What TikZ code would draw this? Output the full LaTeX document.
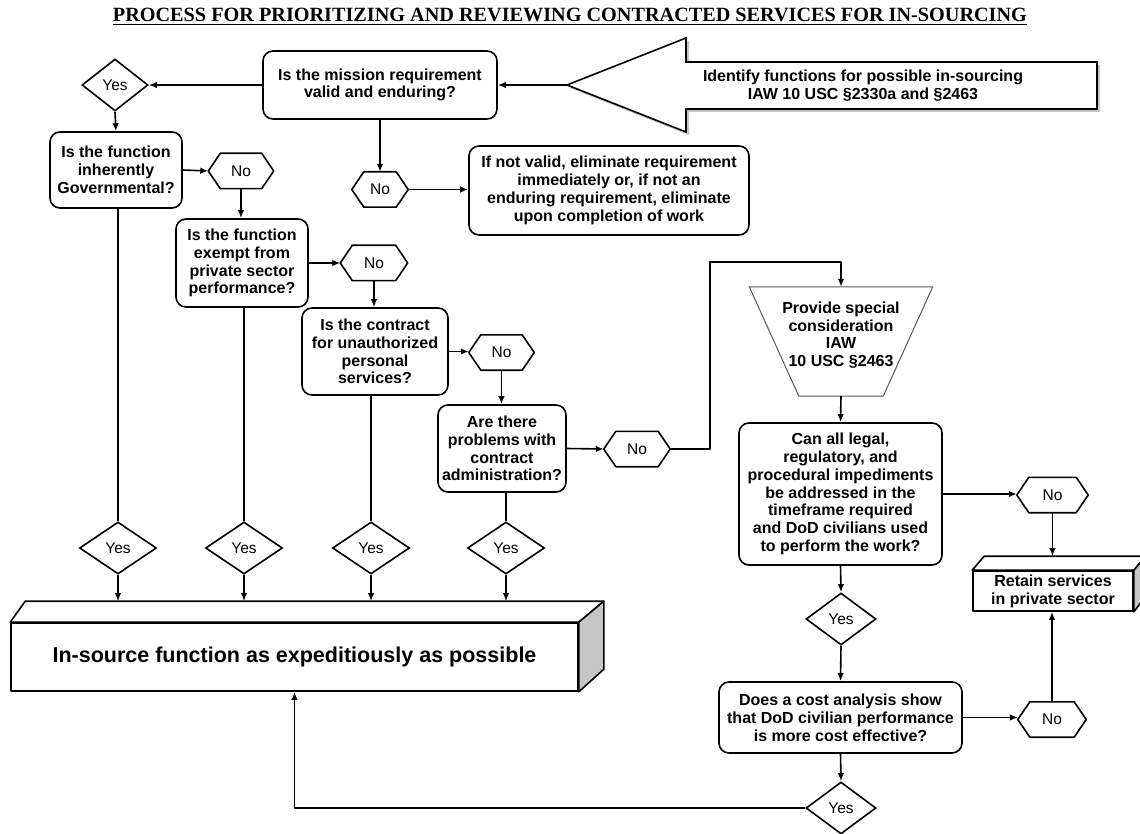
\documentclass[tikz,border=0pt]{standalone}
\usepackage{fontspec}
\setmainfont{Liberation Sans}
\newfontfamily\titlefont{Liberation Serif}
\usetikzlibrary{shapes.geometric,arrows.meta,calc}
\newcommand\qf{\fontsize{16}{17.8}\selectfont\bfseries}
\newcommand\lf{\fontsize{15.5}{17}\selectfont}
\newcommand\hexnode[4]{%
  \node[hexn=#3] (#1) at (#2) {#4};
  \draw[ln] (#1.west) -- ([xshift=12pt]#1.north west) -- ([xshift=-12pt]#1.north east)
    -- (#1.east) -- ([xshift=-12pt]#1.south east) -- ([xshift=12pt]#1.south west) -- cycle;}
\begin{document}
\begin{tikzpicture}[x=1pt,y=-1pt,
  ln/.style={line width=1.6pt, line join=round},
  arr/.style={ln, -{Latex[length=8pt,width=6.5pt]}},
  qbox/.style={draw, ln, rounded corners=10pt, align=center, font=\qf, inner sep=1pt},
  yesd/.style={draw, ln, line join=miter, diamond, inner sep=0pt, minimum width=#1, minimum height=52pt, font=\lf},
  yesd/.default=77pt,
  hexn/.style={minimum width=#1, minimum height=35pt, inner sep=0pt, font=\lf},
  boxthree/.style={draw, ln, align=center, font=\qf, inner sep=0pt},
]
\fill[white] (0,0) rectangle (1140,834);
\useasboundingbox (0,0) rectangle (1140,834);

% title
\node (title) at (570,17) {\resizebox{914pt}{!}{\titlefont\bfseries\underline{PROCESS FOR PRIORITIZING AND REVIEWING CONTRACTED SERVICES FOR IN-SOURCING}}};

% big arrow
\fill[gray!45] (570,88) -- (689,41) -- (689,65) -- (1100,65) -- (1100,112) -- (689,112) -- (689,135) -- cycle;
\draw[ln, fill=white, line join=miter] (567,85) -- (686,38) -- (686,62) -- (1097,62) -- (1097,109) -- (686,109) -- (686,132) -- cycle;
\coordinate (tip) at (567,85);
\node[font=\qf, align=center] (idf) at (863,86) {Identify functions for possible in-sourcing\\IAW 10 USC §2330a and §2463};

% boxes
\node[qbox, minimum width=234pt, minimum height=68pt] (mission) at (380,85) {Is the mission requirement\\valid and enduring?};
\node[yesd=66pt] (yes0) at (115,85) {Yes};
\node[qbox, minimum width=132pt, minimum height=76pt] (inh) at (116,170) {Is the function\\inherently\\Governmental?};
\hexnode{no1}{241,171}{65pt}{No}
\hexnode{no0}{380,189.5}{56pt}{No}
\node[qbox, minimum width=280pt, minimum height=89pt] (elim) at (609,190.5) {If not valid, eliminate requirement\\immediately or, if not an\\enduring requirement, eliminate\\upon completion of work};
\node[qbox, minimum width=132pt, minimum height=88pt] (exm) at (242,263) {Is the function\\exempt from\\private sector\\performance?};
\hexnode{no2}{374,263}{67pt}{No}
\node[qbox, minimum width=146pt, minimum height=87pt] (ctr) at (375,351.5) {Is the contract\\for unauthorized\\personal\\services?};
\hexnode{no3}{501.5,352.5}{65pt}{No}
\node[qbox, minimum width=128pt, minimum height=87pt] (prb) at (502,448.5) {Are there\\problems with\\contract\\administration?};
\hexnode{no4}{637,449}{66pt}{No}

% trapezoid
\node[minimum width=183pt, minimum height=109pt, inner sep=0pt] (trap) at (841,341.5) {};
\draw[line width=1pt, gray!70!black] (trap.north west) -- (trap.north east) -- ([xshift=-49.5pt]trap.south east) -- ([xshift=49.5pt]trap.south west) -- cycle;
\node[font=\qf, align=center] (traptext) at (841,335) {Provide special\\consideration\\IAW\\10 USC §2463};

\node[qbox, minimum width=203pt, minimum height=142pt] (can) at (840.5,494) {Can all legal,\\regulatory, and\\procedural impediments\\be addressed in the\\timeframe required\\and DoD civilians used\\to perform the work?};
\hexnode{no5}{1052.5,495}{71pt}{No}

% retain 3D box
\node[boxthree, minimum width=160pt, minimum height=40pt] (retain) at (1053,591) {Retain services\\in private sector};
\draw[ln, fill=white] (retain.north west) -- ++(12,-14) -- ($(retain.north east)+(12,-14)$) -- (retain.north east) -- cycle;
\draw[ln, fill=gray!45] (retain.north east) -- ++(12,-14) -- ++(0,40) -- (retain.south east) -- cycle;
\coordinate (rtop) at ($(retain.north)+(0,-14)$);

\node[yesd=70pt] (yes5) at (841,619) {Yes};
\node[qbox, minimum width=243pt, minimum height=71pt] (cost) at (840.5,717.5) {Does a cost analysis show\\that DoD civilian performance\\is more cost effective?};
\hexnode{no6}{1052,719.5}{68pt}{No}
\node[yesd=70pt] (yes6) at (841,808) {Yes};

% bottom Yes diamonds
\node[yesd] (yes1) at (118,548) {Yes};
\node[yesd] (yes2) at (244,548) {Yes};
\node[yesd] (yes3) at (371,548) {Yes};
\node[yesd] (yes4) at (506,548) {Yes};

% in-source 3D box
\node[boxthree, minimum width=567pt, minimum height=68pt, font=\fontsize{21.5}{24}\selectfont\bfseries] (insrc) at (294.5,657) {In-source function as expeditiously as possible};
\draw[ln, fill=white] (insrc.north west) -- ++(15,-21) -- ($(insrc.north east)+(25,-21)$) -- (insrc.north east) -- cycle;
\draw[ln, fill=gray!45] (insrc.north east) -- ++(25,-21) -- ++(0,68) -- (insrc.south east) -- cycle;
\coordinate (itop) at ($(insrc.north)+(0,-21)$);

% connectors
\draw[arr] (tip) -- (mission.east);
\draw[arr] (mission.west) -- (yes0.east);
\draw[arr] (yes0.south) -- (inh.north);
\draw[arr] (inh.east) -- (no1.west);
\draw[arr] (no1.south) -- (no1.south |- exm.north);
\draw[arr] (mission.south) -- (no0.north);
\draw[arr] (no0.east) -- (no0.east -| elim.west);
\draw[arr] (exm.east) -- (no2.west);
\draw[arr] (no2.south) -- (no2.south |- ctr.north);
\draw[arr] (ctr.east) -- (ctr.east -| no3.west);
\draw[arr] (no3.south) -- (no3.south |- prb.north);
\draw[arr] (prb.east) -- (no4.west);
\draw[arr] (no4.east) -- ++(40,0) |- ($(trap.north)+(0,-25)$) -- (trap.north);
\draw[arr] (trap.south) -- (can.north);
\draw[arr] (can.east) -- (can.east -| no5.west);
\draw[arr] (no5.south) -- (no5.south |- rtop);
\draw[arr] (can.south) -- (yes5.north);
\draw[arr] (yes5.south) -- (cost.north);
\draw[arr] (cost.east) -- (cost.east -| no6.west);
\draw[arr] (no6.north) -- (no6.north |- retain.south);
\draw[arr] (cost.south) -- (yes6.north);
\draw[arr] (yes6.west) -| (insrc.south);

\draw[ln] (inh.south -| yes1.north) -- (yes1.north);
\draw[ln] (exm.south -| yes2.north) -- (yes2.north);
\draw[ln] (ctr.south -| yes3.north) -- (yes3.north);
\draw[ln] (prb.south -| yes4.north) -- (yes4.north);
\draw[arr] (yes1.south) -- (yes1.south |- itop);
\draw[arr] (yes2.south) -- (yes2.south |- itop);
\draw[arr] (yes3.south) -- (yes3.south |- itop);
\draw[arr] (yes4.south) -- (yes4.south |- itop);
\end{tikzpicture}
\end{document}
